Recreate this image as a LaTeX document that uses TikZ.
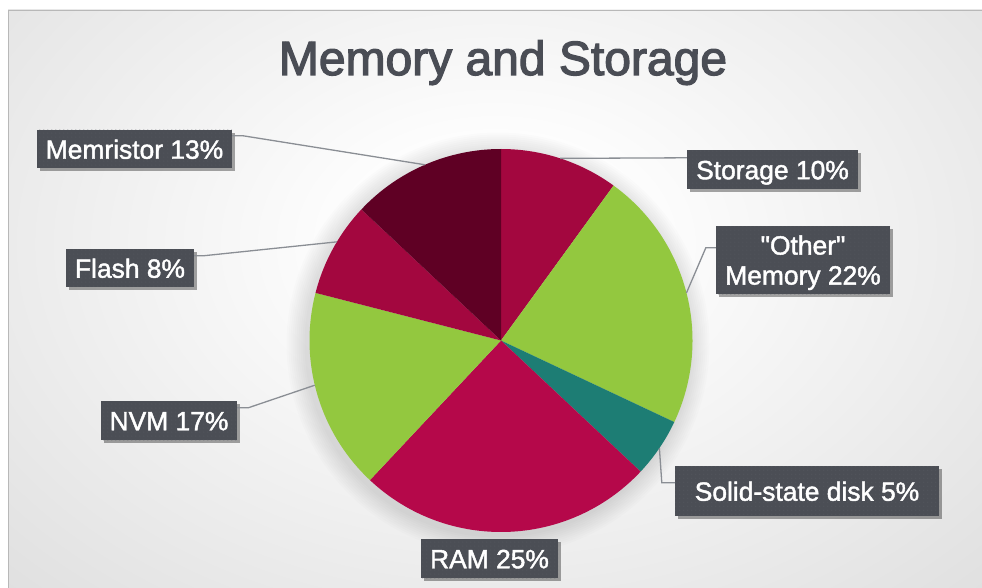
\documentclass[tikz,border=0pt]{standalone}
\usepackage{fontspec}
\setmainfont{Liberation Sans}
\newfontfamily\labfont{Liberation Sans}[FakeBold=1.6]
\newfontfamily\titfont{Liberation Sans}[FakeBold=2.6]
\usetikzlibrary{shadows,patterns.meta}
\definecolor{boxc}{HTML}{4B4E55}
\definecolor{dotc}{HTML}{5A5D64}
\definecolor{titc}{HTML}{4A4D55}
\definecolor{crim}{HTML}{A3073F}
\definecolor{ramc}{HTML}{B5084A}
\definecolor{memc}{HTML}{5F0024}
\definecolor{grn}{HTML}{93C83F}
\definecolor{ssdc}{HTML}{1D7D74}
\definecolor{leadc}{HTML}{8A8E94}
\definecolor{bgout}{HTML}{C0C0C0}
\definecolor{edgec}{HTML}{B8B8B8}
\pgfdeclareradialshading{bgsh}{\pgfpoint{0bp}{0bp}}{color(0bp)=(white); color(6bp)=(white); color(66bp)=(bgout); color(80bp)=(bgout)}
\tikzdeclarepattern{name=ldots, type=uncolored, bottom left={(0pt,0pt)}, top right={(4.3pt,4.3pt)}, tile size={(4.3pt,4.3pt)}, code={\fill (2.15pt,2.15pt) circle (0.55pt);}}
\tikzset{
  lab/.style={fill=boxc, text=white, font=\labfont\fontsize{26.4}{30}\selectfont, inner sep=0pt, align=center,
    drop shadow={shadow xshift=2.5pt, shadow yshift=-3pt, opacity=0.35, fill=black},
    postaction={pattern=ldots, pattern color=dotc}},
  one/.style={text height=19.5pt, text depth=0pt},
  leader/.style={draw=leadc, line width=1.3pt}
}
\begin{document}
\begin{tikzpicture}[x=1pt,y=-1pt]
\useasboundingbox (0,0) rectangle (982,588);
\fill[white] (0,0) rectangle (982,588);
\begin{scope}
  \clip (8,10) rectangle (982,588);
  \shade[shading=bgsh] (8,-100) rectangle (982,588);
\end{scope}
\draw[edgec, line width=0.8pt] (8,588) -- (8,10) -- (982,10);
% title
\node[font=\titfont\fontsize{48}{50}\selectfont, text=titc, anchor=base] (title) at (503,75) {Memory and Storage};
% pie shadow
\foreach \k in {1,...,10}
  \fill[black, opacity=0.013] (498,344) circle[radius={191.5pt+2pt*\k}];
% pie
\begin{scope}[shift={(501,340.5)}, yscale=-1]
  \def\R{191.5}
  \fill[crim] (0,0) -- (90:\R) arc[start angle=90, end angle=54, radius=\R] -- cycle;
  \fill[grn]  (0,0) -- (54:\R) arc[start angle=54, end angle=-25.2, radius=\R] -- cycle;
  \fill[ssdc] (0,0) -- (-25.2:\R) arc[start angle=-25.2, end angle=-43.2, radius=\R] -- cycle;
  \fill[ramc] (0,0) -- (-43.2:\R) arc[start angle=-43.2, end angle=-133.2, radius=\R] -- cycle;
  \fill[grn]  (0,0) -- (-133.2:\R) arc[start angle=-133.2, end angle=-194.4, radius=\R] -- cycle;
  \fill[crim] (0,0) -- (-194.4:\R) arc[start angle=-194.4, end angle=-223.2, radius=\R] -- cycle;
  \fill[memc] (0,0) -- (-223.2:\R) arc[start angle=-223.2, end angle=-270, radius=\R] -- cycle;
  \coordinate (pSto) at (72:\R);
  \coordinate (pOth) at (14.4:\R);
  \coordinate (pSsd) at (-34.2:\R);
  \coordinate (pNvm) at (193.5:\R);
  \coordinate (pFla) at (149:\R);
  \coordinate (pMem) at (113.4:\R);
\end{scope}
% labels
\node[lab,one,minimum width=195pt,minimum height=38pt] (mem) at (134.5,149) {Memristor 13\%};
\node[lab,one,minimum width=128pt,minimum height=38pt] (fla) at (130,268) {Flash 8\%};
\node[lab,one,minimum width=136pt,minimum height=39pt] (nvm) at (169,420.5) {NVM 17\%};
\node[lab,one,minimum width=137pt,minimum height=39pt] (ram) at (489.5,558.5) {RAM 25\%};
\node[lab,one,minimum width=264pt,minimum height=50pt] (ssd) at (807,491) {Solid-state disk 5\%};
\node[lab,text depth=0pt,minimum width=174pt,minimum height=68pt] (oth) at (803,260) {\symbol{34}Other\symbol{34}\\Memory 22\%};
\node[lab,one,minimum width=171pt,minimum height=39pt] (sto) at (772.5,169.5) {Storage 10\%};
% leaders
\draw[leader] ([yshift=-6pt]mem.north east) -- ([xshift=11pt,yshift=-6pt]mem.north east) -- (pMem);
\draw[leader] ([yshift=-7pt]fla.north east) -- ([xshift=9pt,yshift=-7pt]fla.north east) -- (pFla);
\draw[leader] ([yshift=-7pt]nvm.north east) -- ([xshift=11pt,yshift=-7pt]nvm.north east) -- (pNvm);
\draw[leader] (pSto) -- ([yshift=-8pt]sto.north west);
\draw[leader] ([yshift=-22pt]oth.north west) -- ([xshift=-10pt,yshift=-22pt]oth.north west) -- (pOth);
\draw[leader] ([yshift=-17pt]ssd.north west) -- ([xshift=-13pt,yshift=-17pt]ssd.north west) -- (pSsd);
\end{tikzpicture}
\end{document}
